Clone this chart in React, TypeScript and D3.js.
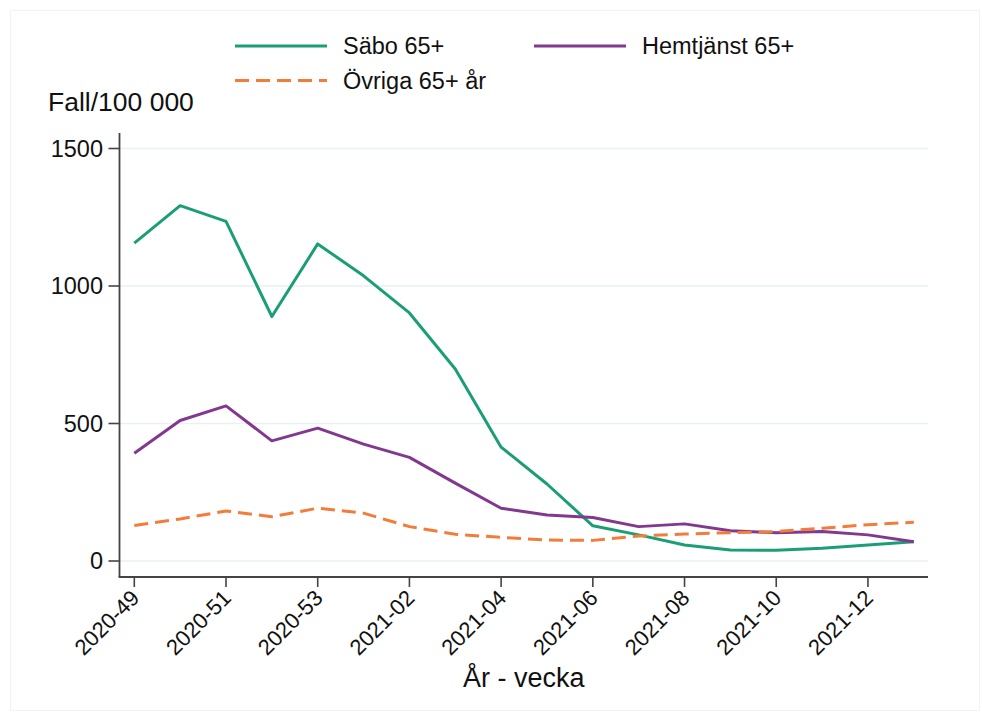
import React from "react";
import * as d3 from "d3";

const weeks = [
  "2020-49", "2020-50", "2020-51", "2020-52", "2020-53",
  "2021-01", "2021-02", "2021-03", "2021-04", "2021-05", "2021-06",
  "2021-07", "2021-08", "2021-09", "2021-10", "2021-11", "2021-12", "2021-13",
];
const tickWeeks = ["2020-49", "2020-51", "2020-53", "2021-02", "2021-04", "2021-06", "2021-08", "2021-10", "2021-12"];
const saebo = [1156, 1292, 1235, 889, 1153, 1037, 902, 698, 414, 280, 128, 95, 58, 40, 39, 46, 58, 70];
const hemtjanst = [392, 511, 564, 437, 483, 425, 377, 283, 192, 167, 158, 125, 135, 110, 103, 107, 95, 70];
const ovriga = [129, 153, 182, 161, 192, 174, 125, 97, 86, 76, 75, 91, 98, 103, 107, 119, 132, 141];
const yTicks = [0, 500, 1000, 1500];

const FONT = "'Liberation Sans', Arial, sans-serif";
const GREEN = "#1b9e77";
const PURPLE = "#82388f";
const ORANGE = "#f27c3a";

export default function App() {
  const W = 982, H = 717;
  const axisLeft = 119.5, axisBottom = 577, axisRight = 928, axisTop = 133;
  const x = d3.scalePoint<string>().domain(weeks).range([134.3, 913.8]).padding(0);
  const y = d3.scaleLinear().domain([0, 1500]).range([561, 148.5]);

  const line = d3.line<number>()
    .x((_, i) => x(weeks[i]) as number)
    .y((d) => y(d));

  const series = [
    { name: "Säbo 65+", values: saebo, color: GREEN, dash: undefined as string | undefined },
    { name: "Hemtjänst 65+", values: hemtjanst, color: PURPLE, dash: undefined as string | undefined },
    { name: "Övriga 65+ år", values: ovriga, color: ORANGE, dash: "14 7" },
  ];

  const legend = [
    { s: series[0], lx: 235, ly: 46 },
    { s: series[1], lx: 534, ly: 46 },
    { s: series[2], lx: 235, ly: 80.5 },
  ];

  return (
    <svg width={W} height={H} style={{ position: "absolute", left: 0, top: 0, background: "#fff" }} fontFamily={FONT}>
      <rect x={10.5} y={10.5} width={969} height={700} fill="#fff" stroke="#f3f3f3" strokeWidth={1} />
      {/* gridlines */}
      {yTicks.map((t) => (
        <line key={"g" + t} x1={axisLeft} x2={axisRight} y1={y(t)} y2={y(t)} stroke="#e9f1f3" strokeWidth={1.6} />
      ))}
      {/* lines */}
      {series.map((s) => (
        <path key={s.name} d={line(s.values) || ""} fill="none" stroke={s.color} strokeWidth={3}
          strokeDasharray={s.dash} strokeLinejoin="round" />
      ))}
      {/* axes */}
      <line x1={axisLeft} x2={axisLeft} y1={axisTop} y2={axisBottom} stroke="#444" strokeWidth={1.8} />
      <line x1={axisLeft - 0.9} x2={axisRight} y1={axisBottom} y2={axisBottom} stroke="#444" strokeWidth={1.8} />
      {yTicks.map((t) => (
        <g key={"yt" + t}>
          <line x1={axisLeft - 11} x2={axisLeft} y1={y(t)} y2={y(t)} stroke="#444" strokeWidth={1.6} />
          <text x={103} y={y(t)} dy="0.35em" textAnchor="end" fontSize={23.5} fill="#111">{t}</text>
        </g>
      ))}
      {tickWeeks.map((w) => {
        const xp = x(w) as number;
        return (
          <g key={"xt" + w}>
            <line x1={xp} x2={xp} y1={axisBottom} y2={axisBottom + 10} stroke="#444" strokeWidth={1.6} />
            <text transform={`translate(${xp + 1},${axisBottom + 17}) rotate(-45)`} dy="0.35em" textAnchor="end"
              fontSize={22} fill="#111">{w}</text>
          </g>
        );
      })}
      {/* titles */}
      <text x={48} y={111} fontSize={26.5} fill="#111">Fall/100 000</text>
      <text x={(axisLeft + axisRight) / 2} y={687} textAnchor="middle" fontSize={27} fill="#111">År - vecka</text>
      {/* legend */}
      {legend.map(({ s, lx, ly }) => (
        <g key={"lg" + s.name}>
          <line x1={lx} x2={lx + 92} y1={ly} y2={ly} stroke={s.color} strokeWidth={3} strokeDasharray={s.dash} />
          <text x={lx + 108} y={ly} dy="0.36em" fontSize={23.5} fill="#111">{s.name}</text>
        </g>
      ))}
    </svg>
  );
}
